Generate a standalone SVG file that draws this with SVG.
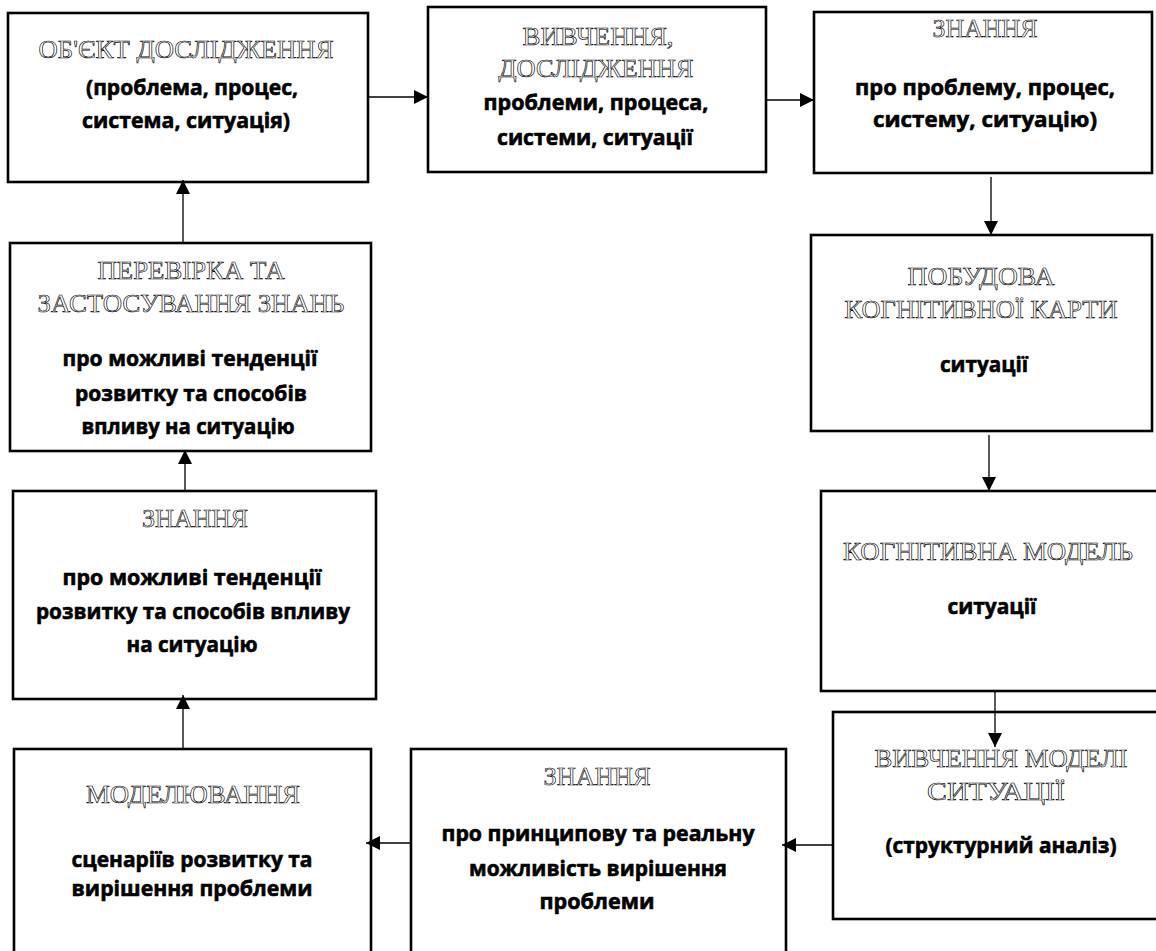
<svg xmlns="http://www.w3.org/2000/svg" width="1156" height="951" viewBox="0 0 1156 951">
<style>
.box{fill:#fff;stroke:#000;stroke-width:2.6}
.t{font-family:"Liberation Serif","Times New Roman",serif;font-size:26px;fill:#fff;stroke:#000;stroke-width:0.65;text-anchor:middle}
.b{font-family:"Open Sans","Liberation Sans",sans-serif;font-weight:700;font-size:22px;fill:#000;stroke:#000;stroke-width:0.6;text-anchor:middle}
.c{stroke:#000;stroke-width:1.3;fill:none;marker-end:url(#ah)}
</style>
<defs>
<marker id="ah" markerUnits="userSpaceOnUse" markerWidth="16" markerHeight="16" refX="14" refY="7" orient="auto">
<path d="M0,0 L14,7 L0,14 Z" fill="#000"/>
</marker>
</defs>
<rect width="1156" height="951" fill="#fff"/>
<g id="n1">
<rect class="box" x="8" y="13" width="360" height="169"/>
<text class="t" x="186" y="58" textLength="295" lengthAdjust="spacingAndGlyphs">ОБ'ЄКТ ДОСЛІДЖЕННЯ</text>
<text class="b" x="192" y="95" textLength="212" lengthAdjust="spacingAndGlyphs">(проблема, процес,</text>
<text class="b" x="186" y="128" textLength="208" lengthAdjust="spacingAndGlyphs">система, ситуація)</text>
</g>
<g id="n2">
<rect class="box" x="428" y="7" width="338" height="165"/>
<text class="t" x="598" y="45" textLength="151" lengthAdjust="spacingAndGlyphs">ВИВЧЕННЯ,</text>
<text class="t" x="596" y="77" textLength="195" lengthAdjust="spacingAndGlyphs">ДОСЛІДЖЕННЯ</text>
<text class="b" x="596" y="110" textLength="225" lengthAdjust="spacingAndGlyphs">проблеми, процеса,</text>
<text class="b" x="595" y="145" textLength="196" lengthAdjust="spacingAndGlyphs">системи, ситуації</text>
</g>
<g id="n3">
<rect class="box" x="814" y="12" width="338" height="161"/>
<text class="t" x="985" y="37" textLength="105" lengthAdjust="spacingAndGlyphs">ЗНАННЯ</text>
<text class="b" x="985" y="95" textLength="260" lengthAdjust="spacingAndGlyphs">про проблему, процес,</text>
<text class="b" x="985" y="127" textLength="224" lengthAdjust="spacingAndGlyphs">систему, ситуацію)</text>
</g>
<g id="n4">
<rect class="box" x="811" y="235" width="341" height="196"/>
<text class="t" x="981" y="285" textLength="147" lengthAdjust="spacingAndGlyphs">ПОБУДОВА</text>
<text class="t" x="981" y="318" textLength="273" lengthAdjust="spacingAndGlyphs">КОГНІТИВНОЇ КАРТИ</text>
<text class="b" x="984" y="372" textLength="88" lengthAdjust="spacingAndGlyphs">ситуації</text>
</g>
<g id="n5">
<rect class="box" x="821" y="491" width="340" height="200"/>
<text class="t" x="988" y="560" textLength="290" lengthAdjust="spacingAndGlyphs">КОГНІТИВНА МОДЕЛЬ</text>
<text class="b" x="992" y="614" textLength="89" lengthAdjust="spacingAndGlyphs">ситуації</text>
</g>
<g id="n6">
<rect class="box" x="833" y="712" width="340" height="207"/>
<text class="t" x="1001" y="767" textLength="253" lengthAdjust="spacingAndGlyphs">ВИВЧЕННЯ МОДЕЛІ</text>
<text class="t" x="996" y="800" textLength="138" lengthAdjust="spacingAndGlyphs">СИТУАЦІЇ</text>
<text class="b" x="1001" y="853" textLength="231" lengthAdjust="spacingAndGlyphs">(структурний аналіз)</text>
</g>
<g id="n7">
<rect class="box" x="10" y="243" width="361" height="208"/>
<text class="t" x="191" y="279" textLength="187" lengthAdjust="spacingAndGlyphs">ПЕРЕВІРКА ТА</text>
<text class="t" x="191" y="312" textLength="307" lengthAdjust="spacingAndGlyphs">ЗАСТОСУВАННЯ ЗНАНЬ</text>
<text class="b" x="190" y="366" textLength="255" lengthAdjust="spacingAndGlyphs">про можливі тенденції</text>
<text class="b" x="191" y="401" textLength="232" lengthAdjust="spacingAndGlyphs">розвитку та способів</text>
<text class="b" x="188" y="434" textLength="213" lengthAdjust="spacingAndGlyphs">впливу на ситуацію</text>
</g>
<g id="n8">
<rect class="box" x="13" y="491" width="363" height="208"/>
<text class="t" x="195" y="527" textLength="106" lengthAdjust="spacingAndGlyphs">ЗНАННЯ</text>
<text class="b" x="192" y="585" textLength="259" lengthAdjust="spacingAndGlyphs">про можливі тенденції</text>
<text class="b" x="193" y="619" textLength="314" lengthAdjust="spacingAndGlyphs">розвитку та способів впливу</text>
<text class="b" x="192" y="652" textLength="131" lengthAdjust="spacingAndGlyphs">на ситуацію</text>
</g>
<g id="n9">
<rect class="box" x="14" y="749" width="357" height="230"/>
<text class="t" x="193" y="803" textLength="214" lengthAdjust="spacingAndGlyphs">МОДЕЛЮВАННЯ</text>
<text class="b" x="192" y="867" textLength="241" lengthAdjust="spacingAndGlyphs">сценаріїв розвитку та</text>
<text class="b" x="192" y="896" textLength="241" lengthAdjust="spacingAndGlyphs">вирішення проблеми</text>
</g>
<g id="n10">
<rect class="box" x="411" y="749" width="375" height="230"/>
<text class="t" x="597" y="785" textLength="107" lengthAdjust="spacingAndGlyphs">ЗНАННЯ</text>
<text class="b" x="598" y="841" textLength="313" lengthAdjust="spacingAndGlyphs">про принципову та реальну</text>
<text class="b" x="598" y="876" textLength="258" lengthAdjust="spacingAndGlyphs">можливість вирішення</text>
<text class="b" x="597" y="909" textLength="115" lengthAdjust="spacingAndGlyphs">проблеми</text>
</g>
<g id="connectors">
<line class="c" x1="369" y1="97" x2="428" y2="97"/>
<line class="c" x1="767" y1="100" x2="814" y2="100"/>
<line class="c" x1="991" y1="177" x2="991" y2="235"/>
<line class="c" x1="989" y1="435" x2="989" y2="491"/>
<line class="c" x1="995" y1="692" x2="995" y2="747"/>
<line class="c" x1="832" y1="845" x2="782" y2="845"/>
<line class="c" x1="410" y1="843" x2="366" y2="843"/>
<line class="c" x1="183" y1="748" x2="183" y2="695"/>
<line class="c" x1="185" y1="490" x2="185" y2="450"/>
<line class="c" x1="183" y1="242" x2="183" y2="180"/>
</g>
</svg>
